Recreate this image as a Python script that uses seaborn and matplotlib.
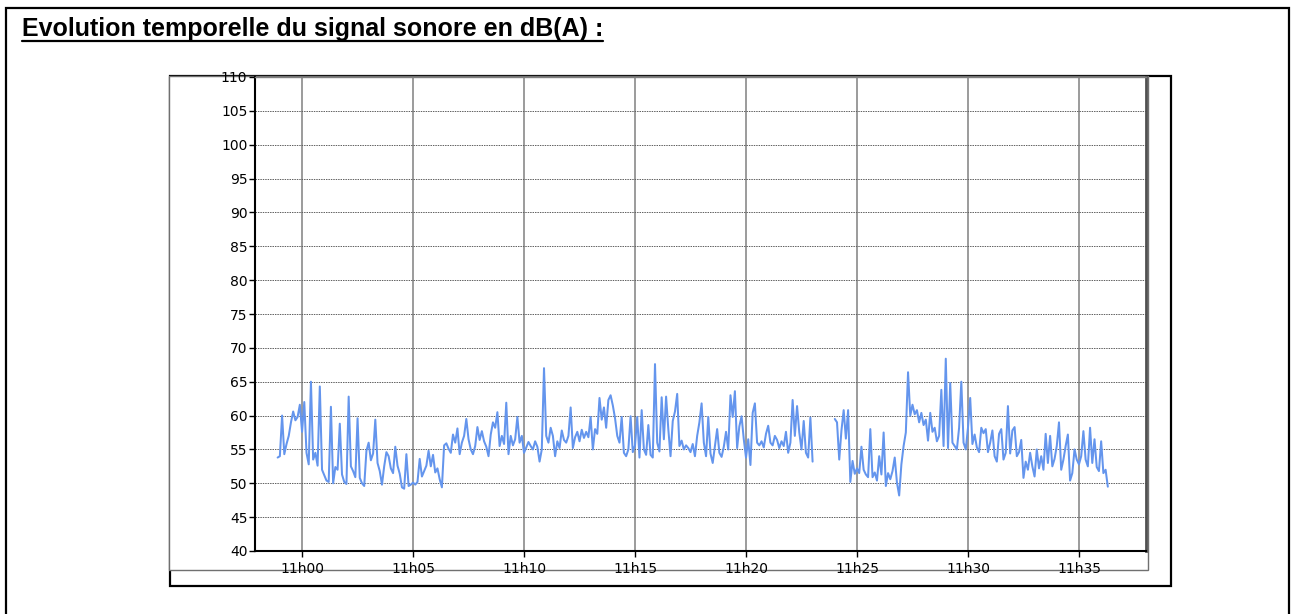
import numpy as np
import pandas as pd
import matplotlib
matplotlib.use("Agg")
import matplotlib.pyplot as plt
import seaborn as sns
from matplotlib.patches import Rectangle
from matplotlib.lines import Line2D

# ---------------- data (dB(A), one reading every 6 s) ----------------
seg_1058_1105 = [53.8, 54.0, 60.0, 54.3, 55.8, 57.0, 59.0, 60.6, 59.3, 59.8,
                 61.6, 57.6, 62.0, 54.5, 52.8, 65.0, 53.5, 54.5, 52.6, 64.3,
                 52.0, 51.2, 50.4, 50.2, 61.3, 50.0, 52.4, 52.0, 58.8, 51.3,
                 50.2, 49.9, 62.8, 52.5, 51.8, 50.9, 59.6, 50.8, 50.0, 49.6,
                 54.8, 56.0, 53.4, 54.4, 59.4, 53.0, 51.8, 49.8, 52.5, 54.6,
                 54.0, 52.2, 51.5, 55.4, 52.6, 51.4, 49.4, 49.2, 54.3, 49.6,
                 49.8, 50.1]
seg_1105_1111 = [49.8, 50.2, 53.6, 51.0, 51.8, 52.6, 54.8, 52.5, 54.2, 51.6,
                 52.2, 50.6, 49.4, 55.6, 55.9, 55.1, 54.5, 57.2, 56.0, 58.1,
                 54.3, 56.0, 57.0, 59.5, 56.5, 55.0, 54.3, 55.5, 58.3, 56.4,
                 57.7, 56.2, 55.4, 54.0, 57.2, 59.0, 58.2, 60.5, 55.5, 57.0,
                 55.8, 61.9, 54.3, 57.0, 55.6, 56.5, 59.8, 56.0, 57.0, 54.5,
                 55.3, 56.1, 55.5, 55.0, 56.2, 55.4, 53.2, 55.0, 67.0, 57.0,
                 56.0, 58.2, 57.0]
seg_1111_1117 = [54.0, 56.2, 55.2, 57.8, 56.4, 56.0, 57.0, 61.2, 55.2, 56.8,
                 57.6, 56.2, 57.9, 56.7, 57.6, 56.8, 59.8, 55.0, 58.0, 57.3,
                 62.6, 59.4, 61.2, 58.2, 62.3, 63.0, 61.5, 59.6, 57.0, 56.0,
                 59.8, 54.5, 54.0, 55.0, 59.9, 54.6, 55.6, 59.8, 53.8, 60.8,
                 55.0, 54.2, 58.6, 54.2, 53.8, 67.6, 56.0, 54.7, 62.7, 56.5,
                 62.8, 58.0, 54.0, 59.2, 60.6, 63.2, 55.5, 56.3, 55.0, 55.6,
                 55.2, 54.6, 55.8]
seg_1117_1123 = [54.0, 57.0, 59.0, 61.8, 56.0, 54.0, 59.8, 54.4, 53.0, 55.5,
                 58.0, 54.5, 53.9, 55.4, 57.6, 55.0, 63.0, 59.8, 63.6, 55.2,
                 58.4, 59.9, 56.5, 53.8, 56.5, 52.7, 60.4, 61.8, 56.0, 55.6,
                 56.2, 55.3, 57.3, 58.5, 56.0, 55.6, 57.0, 56.4, 55.2, 56.2,
                 55.5, 57.6, 54.5, 56.0, 62.3, 57.0, 61.4, 57.5, 55.0, 59.2,
                 54.5, 53.8, 59.7, 53.2]
gap_samples = 9  # no measurement between ~11h23 and 11h24
seg_1124_1130 = [59.5, 59.0, 53.5, 57.8, 60.8, 56.6, 60.8, 50.2, 53.3, 51.4,
                 52.2, 51.5, 55.4, 52.0, 51.3, 50.9, 58.0, 50.9, 51.6, 50.4,
                 54.0, 51.3, 57.5, 49.6, 51.5, 50.6, 51.8, 53.8, 50.1, 48.2,
                 52.8, 55.5, 57.5, 66.4, 60.0, 61.6, 60.2, 60.8, 59.0, 60.4,
                 58.6, 59.4, 56.3, 60.4, 57.6, 58.2, 56.2, 57.0, 63.8, 55.5,
                 68.4, 55.2, 64.8, 56.0, 55.5, 55.0, 58.2, 65.0, 56.0, 55.0,
                 58.2, 62.6, 55.8, 57.2]
seg_1130_1136 = [55.3, 54.6, 58.2, 57.4, 58.0, 54.6, 56.0, 57.8, 54.0, 53.2,
                 57.3, 58.0, 53.5, 54.5, 61.4, 54.4, 57.8, 58.3, 54.0, 54.6,
                 56.4, 50.8, 53.2, 52.0, 54.5, 52.5, 51.0, 55.0, 52.2, 54.0,
                 52.0, 57.3, 53.0, 57.0, 52.5, 53.6, 55.5, 59.0, 52.0, 53.5,
                 55.5, 57.2, 50.4, 51.5, 55.0, 53.5, 52.8, 54.0, 57.7, 53.5,
                 52.5, 58.2, 53.0, 56.5, 52.4, 51.8, 56.2, 51.5, 52.0, 49.5]

START_MINUTE = -1.1      # first reading, minutes after 11h00
STEP_MINUTE = 0.1        # 6 s between readings
x_tick_minutes = [0, 5, 10, 15, 20, 25, 30, 35]
x_tick_labels = ["11h00", "11h05", "11h10", "11h15", "11h20", "11h25", "11h30", "11h35"]
y_ticks = list(range(40, 111, 5))
title_text = "Evolution temporelle du signal sonore en dB(A) :"

part_a = seg_1058_1105 + seg_1105_1111 + seg_1111_1117 + seg_1117_1123
part_b = seg_1124_1130 + seg_1130_1136
values = part_a + [np.nan] * gap_samples + part_b
segment = [0] * len(part_a) + [-1] * gap_samples + [1] * len(part_b)
minutes = START_MINUTE + STEP_MINUTE * np.arange(len(values))
df = pd.DataFrame({"minute": minutes, "dB": values, "segment": segment})
df = df[df["segment"] >= 0]

# ---------------- figure ----------------
sns.set_theme(style="white")
plt.rcParams["font.family"] = ["DejaVu Sans"]
plt.rcParams["text.color"] = "black"

W, H = 1293, 614
fig = plt.figure(figsize=(W / 100, H / 100), dpi=100)
fig.patch.set_facecolor("white")

def px_rect(x0, y0, x1, y1, **kw):
    return Rectangle((x0 / W, 1 - y1 / H), (x1 - x0) / W, (y1 - y0) / H,
                     transform=fig.transFigure, **kw)

# outer page frame
fig.patches.append(px_rect(6, 8, 1289, 640, fill=False, edgecolor="black",
                           linewidth=1.6, zorder=-5))
# black shadow frame of the chart object
fig.patches.append(px_rect(170, 76, 1171, 586, fill=False, edgecolor="black",
                           linewidth=1.6, zorder=-4))
# grey chart frame
fig.patches.append(px_rect(169, 76, 1148, 570, facecolor="white",
                           edgecolor="#707070", linewidth=1.0, zorder=-3))

# title with underline
title = fig.text(22 / W, 1 - 36 / H, title_text, fontsize=18, fontweight="bold",
                 color="black", family=["Liberation Sans", "DejaVu Sans"],
                 va="baseline", ha="left")

ax = fig.add_axes([255 / W, 1 - 551 / H, (1146 - 255) / W, (551 - 77) / H])
ax.set_facecolor("white")

sns.lineplot(data=df, x="minute", y="dB", units="segment", estimator=None,
             color="#6495ED", linewidth=1.45, ax=ax, legend=False)

ax.set_xlim(-2.12, 38.02)
ax.set_ylim(40, 110)
ax.set_xticks(x_tick_minutes)
ax.set_xticklabels(x_tick_labels)
ax.set_yticks(y_ticks)
ax.set_yticklabels([str(v) for v in y_ticks])
ax.set_xlabel("")
ax.set_ylabel("")

ax.yaxis.grid(True, color="#606060", linestyle=(0, (1.5, 1.0)), linewidth=0.7)
ax.xaxis.grid(True, color="#8a8a8a", linestyle="-", linewidth=1.2)
ax.set_axisbelow(True)

ax.tick_params(axis="y", direction="out", length=4, width=1, pad=1.5,
               labelsize=10, colors="black", left=True)
ax.tick_params(axis="x", direction="out", length=4, width=1, pad=4,
               labelsize=10, colors="black", bottom=True)

for side in ["left", "bottom"]:
    ax.spines[side].set_color("black")
    ax.spines[side].set_linewidth(1.5)
ax.spines["top"].set_color("#808080")
ax.spines["top"].set_linewidth(1.0)
ax.spines["right"].set_color("#505050")
ax.spines["right"].set_linewidth(2.0)

fig.canvas.draw()
bb = title.get_window_extent(renderer=fig.canvas.get_renderer())
inv = fig.transFigure.inverted()
(ux0, uy), (ux1, _) = inv.transform([(bb.x0, H - 41), (bb.x1, H - 41)])
fig.lines.append(Line2D([ux0, ux1], [uy, uy], transform=fig.transFigure,
                        color="black", linewidth=1.6))

fig.savefig("out.png", dpi=100, facecolor="white")
